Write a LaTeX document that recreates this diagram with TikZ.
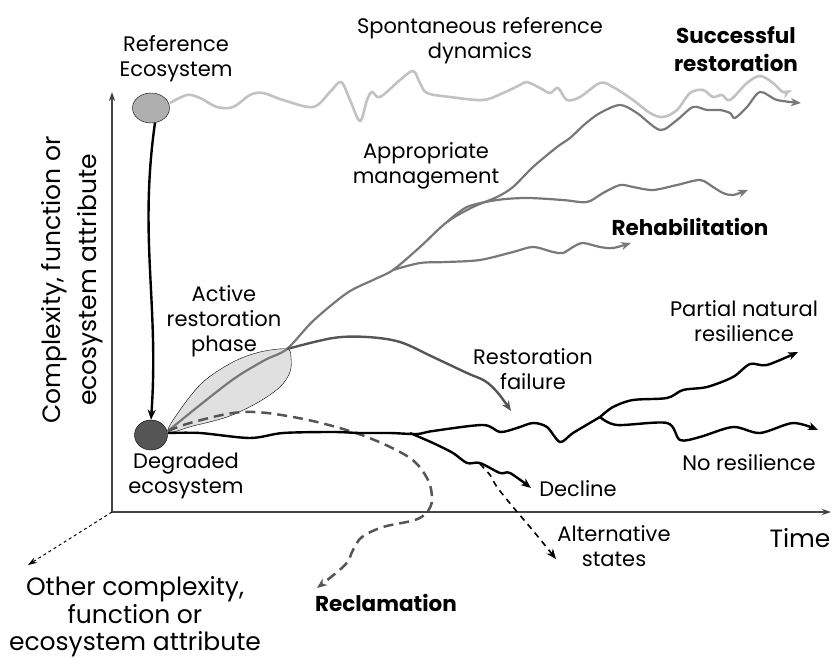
\documentclass[tikz,border=0pt]{standalone}
\usepackage{fontspec}
\setmainfont{Poppins}
\usetikzlibrary{arrows.meta,shapes.geometric}

\definecolor{refgray}{HTML}{C2C2C2}
\definecolor{mgmtgray}{HTML}{787878}
\definecolor{failgray}{HTML}{555555}
\definecolor{axisgray}{HTML}{444444}

\tikzset{
  lbl/.style={align=center,inner sep=0pt,font=\fontsize{21}{25}\selectfont},
  biglbl/.style={align=center,inner sep=0pt,font=\fontsize{25}{27.5}\selectfont},
  boldlbl/.style={align=center,inner sep=0pt,font=\fontsize{21.5}{28}\selectfont\bfseries},
  tip/.style={-{Stealth[length=10pt,width=8pt,inset=3pt]}},
  refline/.style={draw=refgray,line width=2.6pt,tip},
  mgmtline/.style={draw=mgmtgray,line width=2.2pt,tip},
  blkline/.style={draw=black,line width=2.4pt,tip},
}

\begin{document}
\begin{tikzpicture}[x=1pt,y=-1pt]
  \useasboundingbox (0,0) rectangle (833,660);
  % axes
  \coordinate (o) at (112,512);
  \coordinate (ytop) at (112,92);
  \coordinate (xend) at (831,512);
  \coordinate (zend) at (28,565);
  \draw[axisgray,line width=1.6pt,-{Stealth[length=9pt,width=6pt]}] (o) -- (ytop);
  \draw[axisgray,line width=1.6pt,-{Stealth[length=9pt,width=6pt]}] (o) -- (xend);
  \draw[black,line width=1pt,dashed,-{Stealth[length=9pt,width=6pt]}] (o) -- (zend);

  % the two states
  \node[ellipse,draw,thin,fill=refgray!90!black,minimum width=37pt,minimum height=30pt,inner sep=0pt] (ref) at (151,108) {};
  \node[ellipse,draw,thin,fill=failgray,minimum width=33pt,minimum height=30pt,inner sep=0pt] (deg) at (151,435) {};
  \draw[blkline] (ref.-75) to[out=-98,in=86] (deg.north);

  % active restoration phase
  \coordinate (t) at (287,349);
  \filldraw[fill=black!12,draw=black,thin] plot[smooth cycle,tension=0.55] coordinates
    {(168,432) (180,410) (203,382) (233,362) (260,352) (287,349) (291,358) (290,372) (280,387) (257,403) (227,417) (193,426)};

  % spontaneous reference dynamics
  \draw[refline] (ref.east) plot[smooth,tension=0.55] coordinates {(170,103) (187,95) (200,98) (217,107) (233,107) (250,95) (263,93)
    (283,100) (313,107) (330,92) (341,82) (350,100) (360,121) (367,100) (372,92) (380,97) (400,80) (413,71) (420,83) (427,93)
    (450,97) (483,100) (503,93) (520,85) (527,82) (540,88) (550,93) (558,88) (567,100) (580,97) (600,83) (613,87) (633,100)
    (650,113) (663,117) (677,110) (690,93) (703,90) (713,97) (722,95) (730,100) (747,83) (760,76) (773,83) (783,92) (791,90)};

  % appropriate management
  \coordinate (b1) at (393,270);
  \coordinate (b2) at (447,222);
  \draw[mgmtline] plot[smooth,tension=0.5] coordinates {(168,431) (200,405) (235,378) (265,360) (287,349) (313,321) (347,293)
    (373,280) (393,270) (420,247) (447,222) (473,207) (497,197) (513,187) (533,167) (557,147) (570,138) (585,124) (600,113)
    (620,105) (637,113) (660,130) (677,120) (693,107) (707,110) (720,110) (730,113) (735,118) (747,107) (760,92) (777,100) (801,103)};
  \draw[mgmtline] plot[smooth,tension=0.5] coordinates {(447,222) (467,207) (497,200) (527,198) (563,200) (587,202) (603,193)
    (620,185) (633,187) (653,190) (677,185) (700,180) (713,187) (723,193) (733,195) (748,190)};
  \draw[mgmtline] plot[smooth,tension=0.5] coordinates {(393,270) (420,263) (447,262) (480,260) (513,252) (533,247) (553,252)
    (563,253) (573,247) (583,243) (600,247) (613,248) (631,243)};

  % restoration failure
  \draw[draw=failgray,line width=2.4pt,tip] plot[smooth,tension=0.55] coordinates {(287,349) (333,338) (367,337) (400,342)
    (433,357) (467,373) (485,381) (498,393) (511,411)};

  % reclamation
  \draw[draw=failgray,line width=2.5pt,dash pattern=on 10pt off 6pt,tip] plot[smooth,tension=0.55] coordinates {(168,431)
    (190,423) (233,413) (267,413) (317,422) (367,437) (410,458) (428,480) (432,500) (427,512) (415,520) (383,527) (362,537)
    (353,550) (345,565) (317,588)};

  % degraded trajectories
  \coordinate (split) at (600,417);
  \draw[blkline,-] plot[smooth,tension=0.5] coordinates {(168,433) (200,433) (250,438) (283,433) (333,432) (360,433) (390,433)
    (417,434) (433,431) (483,425) (500,432) (517,428) (533,423) (547,427) (560,442) (573,433) (600,417)};
  \draw[blkline] plot[smooth,tension=0.5] coordinates {(600,417) (613,407) (633,400) (667,398) (683,390) (707,387) (733,377)
    (750,364) (767,365) (798,352)};
  \draw[blkline] plot[smooth,tension=0.5] coordinates {(600,417) (617,425) (667,423) (680,440) (700,437) (733,427) (760,433)
    (793,423) (818,430)};
  \draw[blkline] plot[smooth,tension=0.5] coordinates {(410,433) (433,443) (453,453) (467,463) (480,463) (500,473) (510,473)
    (531,488)};
  \draw[black,line width=1.6pt,dash pattern=on 6pt off 5pt,tip] plot[smooth,tension=0.5] coordinates {(480,464) (490,475)
    (497,487) (513,507) (535,533) (556,559)};

  % labels
  \node[lbl] (reflbl) at (176,59) {Reference\\Ecosystem};
  \node[lbl] (deglbl) at (186,476) {Degraded\\ecosystem};
  \node[lbl] (spont) at (480,41) {Spontaneous reference\\dynamics};
  \node[boldlbl] (succ) at (736,49) {Successful\\restoration};
  \node[lbl] (appr) at (426,166) {Appropriate\\management};
  \node[boldlbl] (rehab) at (690,227) {Rehabilitation};
  \node[lbl] (active) at (224,321) {Active\\restoration\\phase};
  \node[lbl] (fail) at (533,369) {Restoration\\failure};
  \node[lbl] (partial) at (744,321) {Partial natural\\resilience};
  \node[lbl] (nores) at (749,463) {No resilience};
  \node[lbl] (decl) at (578,489) {Decline};
  \node[lbl] (alt) at (614,546) {Alternative\\states};
  \node[biglbl] (time) at (800,538) {Time};
  \node[boldlbl] (recl) at (386,603) {Reclamation};
  \node[biglbl] (other) at (135,617) {Other complexity,\\function or\\ecosystem attribute};
  \node[biglbl,rotate=90,font=\fontsize{25}{36}\selectfont] (ylbl) at (72,280) {Complexity, function or\\ecosystem attribute};
\end{tikzpicture}
\end{document}
